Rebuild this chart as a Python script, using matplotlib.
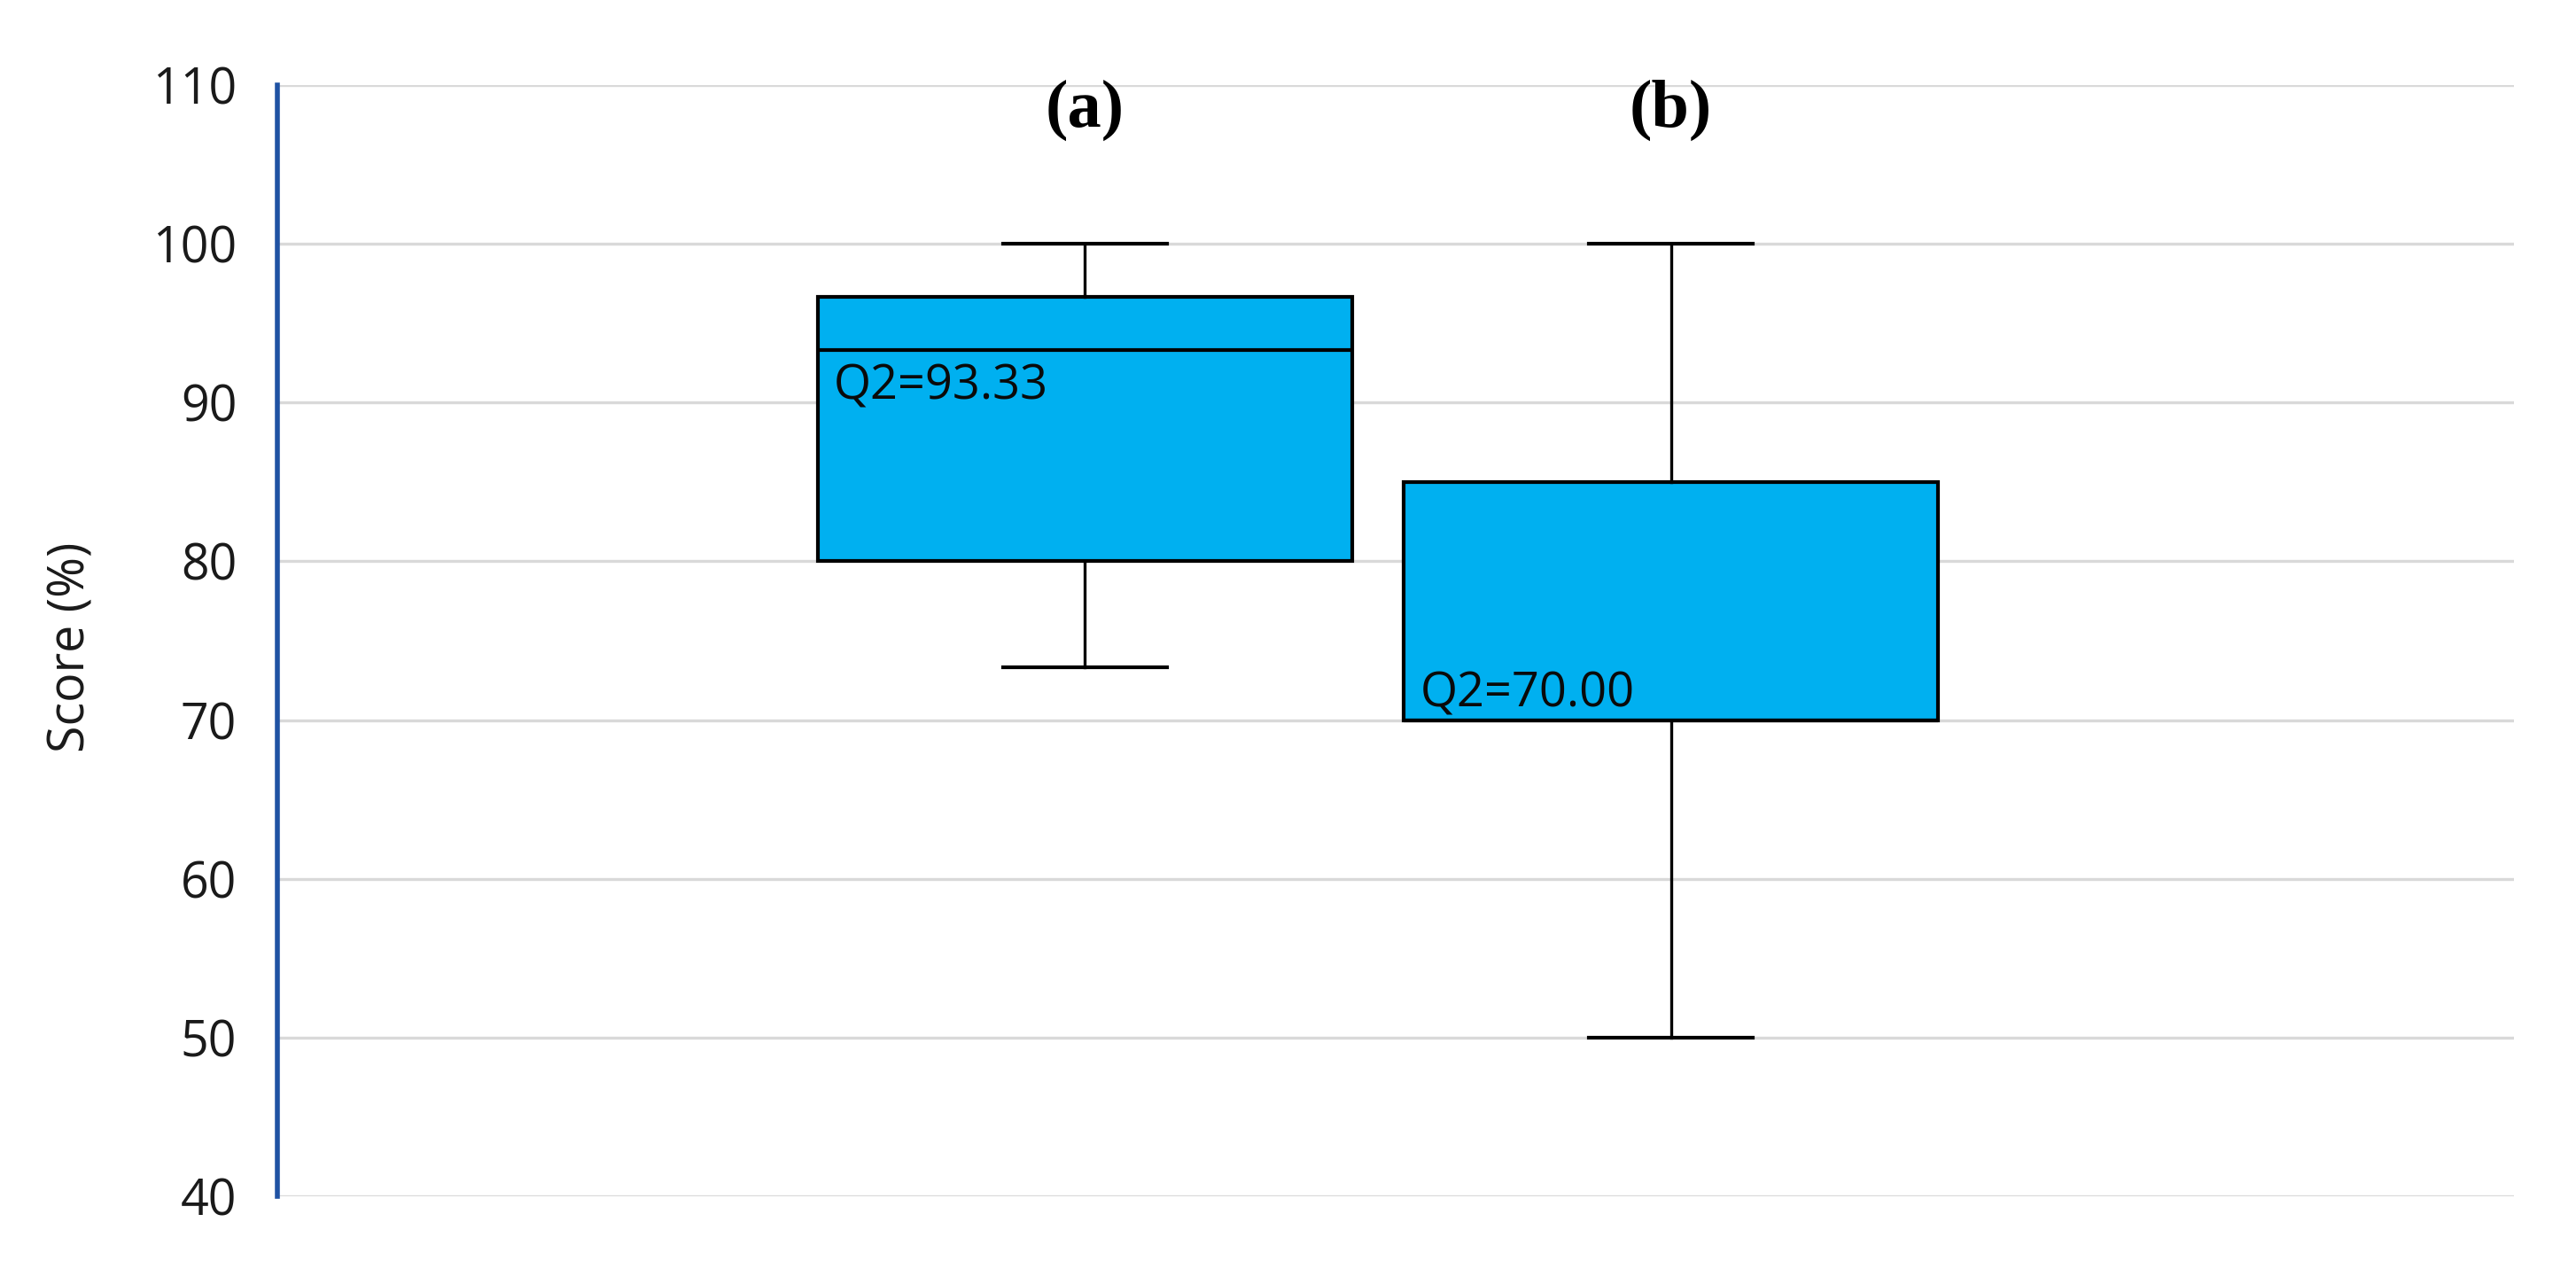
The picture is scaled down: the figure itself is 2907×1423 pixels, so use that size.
import matplotlib
matplotlib.use("Agg")
import matplotlib.pyplot as plt

# ==============================
# Data
# ==============================
groups = ["(a)", "(b)"]
q1 = [80.0, 70.0]
median = [93.33, 70.00]
q3 = [96.67, 85.0]
whisker_low = [73.33, 50.0]
whisker_high = [100.0, 100.0]
y_ticks = [40, 50, 60, 70, 80, 90, 100, 110]

box_color = "#00B0F0"
grid_color = "#d9d9d9"
spine_color = "#1F52A3"

plt.rcParams["font.family"] = ["Open Sans", "DejaVu Sans"]

fig = plt.figure(figsize=(29.07, 14.23), dpi=100)
ax = fig.add_axes([0.1077, 0.0513, 0.976 - 0.1077, 0.9325 - 0.0513])

stats = []
for i in range(len(groups)):
    stats.append({
        "label": groups[i],
        "q1": q1[i],
        "med": median[i],
        "q3": q3[i],
        "whislo": whisker_low[i],
        "whishi": whisker_high[i],
        "fliers": [],
    })

positions = [1, 2]
box_width = 0.911

ax.bxp(
    stats,
    positions=positions,
    widths=box_width,
    patch_artist=True,
    showfliers=False,
    capwidths=0.28,
    boxprops=dict(facecolor=box_color, edgecolor="black", linewidth=3.0),
    medianprops=dict(color="black", linewidth=3.0),
    whiskerprops=dict(color="black", linewidth=2.4),
    capprops=dict(color="black", linewidth=3.0),
    zorder=3,
)

# Q2 labels inside the boxes (baseline offsets from the median)
label_offset = [-3.1, 0.85]
for i in range(len(groups)):
    ax.text(positions[i] - box_width / 2 + 0.027, median[i] + label_offset[i],
            f"Q2={median[i]:.2f}", fontsize=39, va="baseline", ha="left",
            color="#0a0a0a", zorder=4)

# group letters above the boxes
for i in range(len(groups)):
    ax.text(positions[i], 108.4, groups[i], fontsize=55, fontweight="bold",
            family=["Liberation Serif", "DejaVu Serif"],
            ha="center", va="center", zorder=4)

ax.set_xlim(-0.378, 3.439)
ax.set_ylim(40, 110)
ax.set_yticks(y_ticks)
ax.set_xticks([])
ax.tick_params(axis="y", length=0, pad=33, labelsize=40, labelcolor="#1a1a1a")

ax.grid(axis="y", color=grid_color, linewidth=2.4, zorder=0)
ax.set_axisbelow(True)

for side in ["top", "right", "bottom"]:
    ax.spines[side].set_visible(False)
ax.spines["left"].set_color(spine_color)
ax.spines["left"].set_linewidth(4.0)
ax.spines["left"].set_zorder(5)

ax.set_ylabel("Score (%)", fontsize=40, color="#1a1a1a", va="center")
ax.yaxis.set_label_coords(-0.092, 0.494)

fig.savefig("out.png", dpi=100, facecolor="white")
